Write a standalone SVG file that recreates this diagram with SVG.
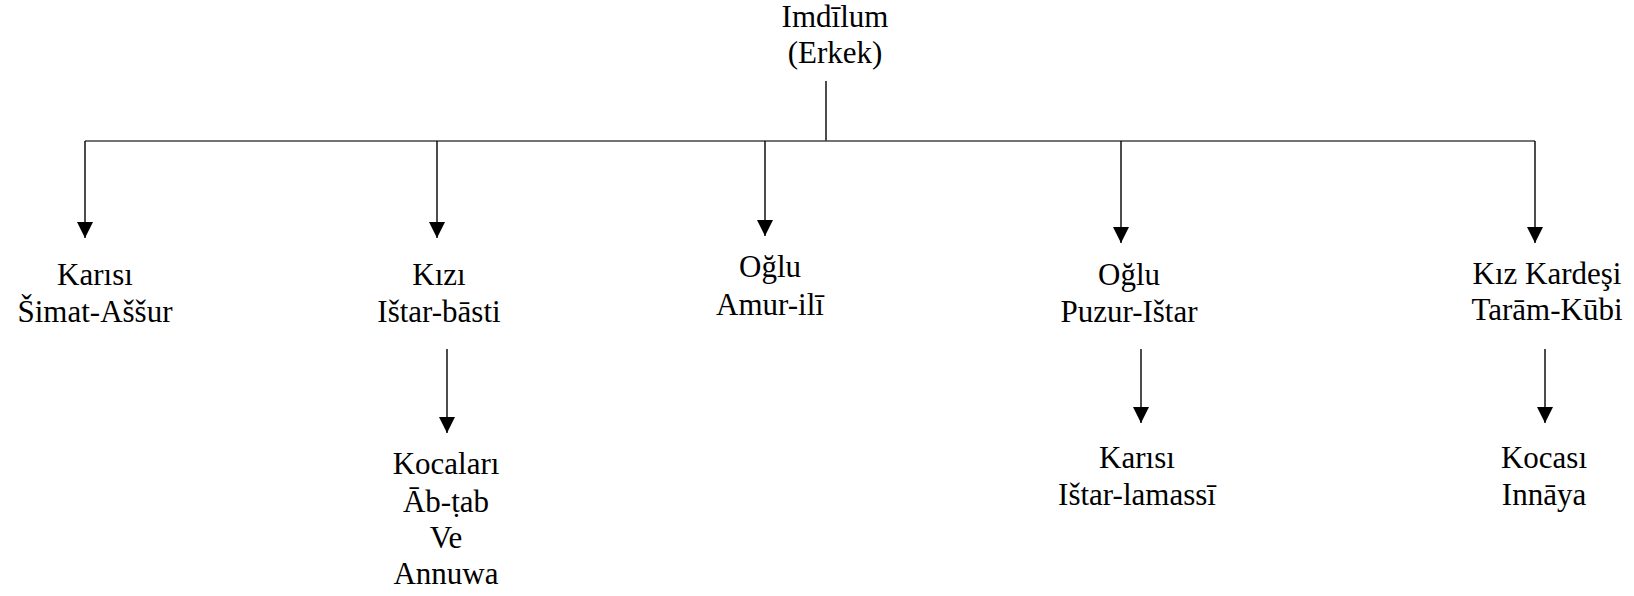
<svg xmlns="http://www.w3.org/2000/svg" width="1634" height="596" viewBox="0 0 1634 596">
<style>
  text { font-family: 'Liberation Serif', 'Times New Roman', Times, serif; font-size: 31px; fill: #000; text-anchor: middle; }
  .ln { stroke: #000; stroke-width: 1.4; fill: none; }
  .hz { stroke: #444; stroke-width: 1.6; fill: none; }
</style>
<defs>
  <marker id="ah" markerUnits="userSpaceOnUse" markerWidth="16" markerHeight="16" viewBox="0 0 16 16" refX="16" refY="8" orient="auto">
    <path d="M0,0 L16,8 L0,16 Z" fill="#000"/>
  </marker>
</defs>
<g id="connectors">
  <line class="ln" x1="826" y1="81" x2="826" y2="141"/>
  <line class="hz" x1="85" y1="141" x2="1535" y2="141"/>
  <line class="ln" x1="85" y1="141" x2="85" y2="238" marker-end="url(#ah)"/>
  <line class="ln" x1="437" y1="141" x2="437" y2="238" marker-end="url(#ah)"/>
  <line class="ln" x1="765" y1="141" x2="765" y2="236" marker-end="url(#ah)"/>
  <line class="ln" x1="1121" y1="141" x2="1121" y2="243" marker-end="url(#ah)"/>
  <line class="ln" x1="1535" y1="141" x2="1535" y2="243" marker-end="url(#ah)"/>
  <line class="ln" x1="447" y1="349" x2="447" y2="433" marker-end="url(#ah)"/>
  <line class="ln" x1="1141" y1="349" x2="1141" y2="423" marker-end="url(#ah)"/>
  <line class="ln" x1="1545" y1="349" x2="1545" y2="423" marker-end="url(#ah)"/>
</g>
<g font-family="Liberation Serif, serif">
<g id="imdilum">
  <text x="835" y="27">Imdīlum</text>
  <text x="835" y="63">(Erkek)</text>
</g>
<g id="simat-assur">
  <text x="95" y="285">Karısı</text>
  <text x="95" y="322">Šimat-Aššur</text>
</g>
<g id="istar-basti">
  <text x="439" y="285">Kızı</text>
  <text x="439" y="322">Ištar-bāsti</text>
</g>
<g id="amur-ili">
  <text x="770" y="277">Oğlu</text>
  <text x="770" y="315">Amur-ilī</text>
</g>
<g id="puzur-istar">
  <text x="1129" y="285">Oğlu</text>
  <text x="1129" y="322">Puzur-Ištar</text>
</g>
<g id="taram-kubi">
  <text x="1547" y="284">Kız Kardeşi</text>
  <text x="1547" y="320">Tarām-Kūbi</text>
</g>
<g id="ab-tab-annuwa">
  <text x="446" y="474">Kocaları</text>
  <text x="446" y="512">Āb-ṭab</text>
  <text x="446" y="548">Ve</text>
  <text x="446" y="584">Annuwa</text>
</g>
<g id="istar-lamassi">
  <text x="1137" y="468">Karısı</text>
  <text x="1137" y="505">Ištar-lamassī</text>
</g>
<g id="innaya">
  <text x="1544" y="468">Kocası</text>
  <text x="1544" y="505">Innāya</text>
</g>
</g>
</svg>
